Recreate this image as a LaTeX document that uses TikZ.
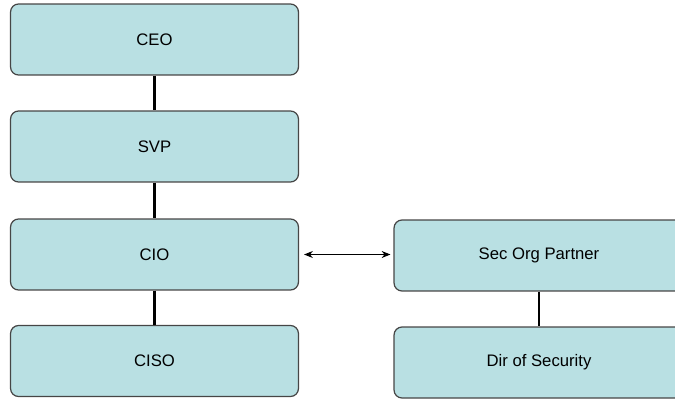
\documentclass[tikz,border=0pt]{standalone}
\usepackage{fontspec}
\setmainfont{Liberation Sans}
\usetikzlibrary{arrows.meta}
\definecolor{boxfill}{RGB}{185,224,227}
\definecolor{boxline}{RGB}{70,70,70}
\tikzset{
  role/.style={
    rectangle, rounded corners=0.16cm, draw=boxline, fill=boxfill,
    line width=0.7pt,
    minimum width=5.76cm, minimum height=1.42cm,
    align=center,
    font=\fontsize{9.5}{11}\selectfont
  },
  wide/.style={role, minimum width=5.8cm},
  tie/.style  = {line width=1.5pt, black},
  both/.style = {{Stealth[length=5pt,width=4pt]}-{Stealth[length=5pt,width=4pt]},
                 line width=0.6pt, shorten <=0.1cm, shorten >=0.06cm},
}
\begin{document}
\begin{tikzpicture}[x=0.02cm, y=-0.02cm]

%% canvas
\clip (0,0) rectangle (675,399);

%% left column
\node[role] (CEO)  at (154.5, 39.5)  {CEO};
\node[role] (SVP)  at (154.5, 146.5) {SVP};
\node[role] (CIO)  at (154.5, 254.5) {CIO};
\node[role] (CISO) at (154.5, 361)   {CISO};

%% right column
\node[wide] (SecOrg) at (539, 255.5) {Sec Org Partner};
\node[wide] (DirSec) at (539, 362.5) {Dir of Security};

%% reporting lines
\draw[tie] (CEO.south) -- (SVP.north);
\draw[tie] (SVP.south) -- (CIO.north);
\draw[tie] (CIO.south) -- (CISO.north);
\draw[tie] (SecOrg.south) -- (DirSec.north);

%% partnership
\draw[both] (CIO.east) -- (CIO.east -| SecOrg.west);

\end{tikzpicture}
\end{document}
